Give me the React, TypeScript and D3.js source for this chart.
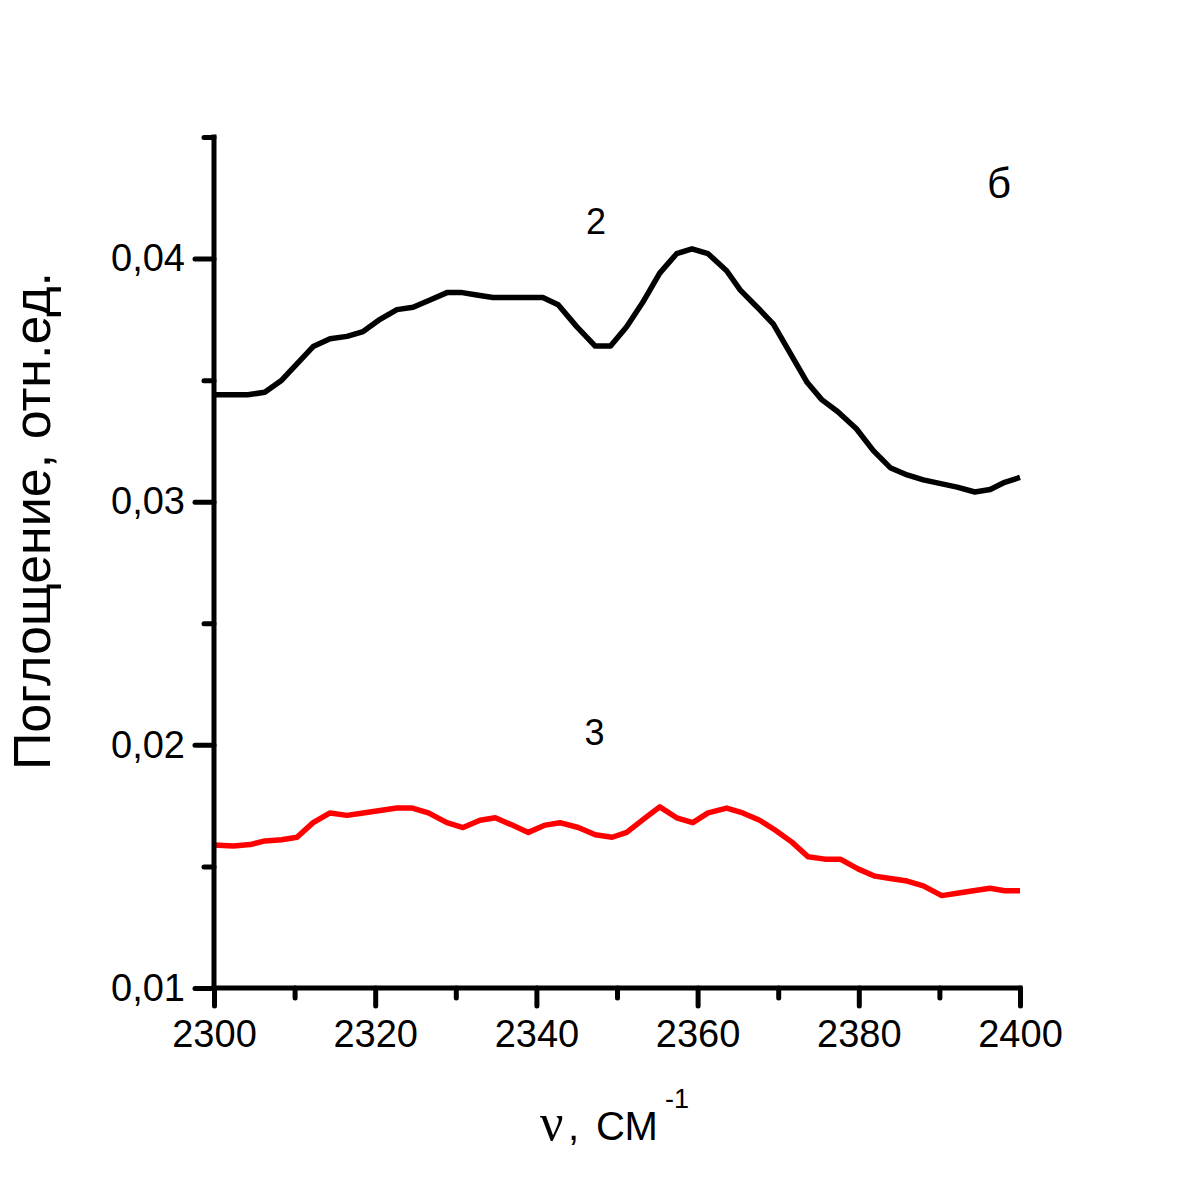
import { useEffect, useRef } from 'react';
import * as d3 from 'd3';

const WIDTH = 1185;
const HEIGHT = 1185;
const MARGIN = { top: 137, right: 165, bottom: 197, left: 214 };

// curve 2 (black)
const nu2 = [
  2300, 2304.2, 2306.3, 2308.4, 2312.3, 2314.4, 2316.5, 2318.5, 2320.6, 2322.7, 2324.7, 2326.8, 2328.9, 2330.8,
  2332.6, 2334.6, 2340.8, 2342.7, 2345.0, 2347.3, 2349.2, 2351.2, 2353.2, 2355.3, 2357.4, 2359.3, 2361.3, 2363.6,
  2365.3, 2367.4, 2369.4, 2371.5, 2373.6, 2375.4, 2377.4, 2379.7, 2381.8, 2383.9, 2386.0, 2388.0, 2392.2, 2394.4,
  2396.3, 2398.1, 2400,
];
const abs2 = [
  0.0344, 0.0344, 0.0345, 0.035, 0.03638, 0.0367, 0.0368, 0.037, 0.0375, 0.0379, 0.038, 0.0383, 0.0386, 0.0386,
  0.0385, 0.0384, 0.0384, 0.0381, 0.0372, 0.0364, 0.0364, 0.0372, 0.0382, 0.0394, 0.0402, 0.0404, 0.0402, 0.0395,
  0.0387, 0.038, 0.0373, 0.0361, 0.0349, 0.0342, 0.0337, 0.033, 0.0321, 0.0314, 0.0311, 0.0309, 0.0306, 0.0304,
  0.0305, 0.0308, 0.031,
];

// curve 3 (red)
const nu3 = [
  2300, 2302.4, 2304.5, 2306.3, 2308.4, 2310.3, 2312.3, 2314.4, 2316.5, 2318.5, 2320.6, 2322.7, 2324.6, 2326.6,
  2328.9, 2330.9, 2333.0, 2334.9, 2337.0, 2339.0, 2341.1, 2342.9, 2345.2, 2347.3, 2349.4, 2351.2, 2353.5, 2355.3,
  2357.4, 2359.4, 2361.3, 2363.6, 2365.6, 2367.7, 2369.6, 2371.7, 2373.7, 2375.8, 2377.7, 2379.9, 2382.0, 2383.9,
  2386.0, 2388.0, 2390.3, 2392.2, 2394.2, 2396.3, 2398.1, 2400,
];
const abs3 = [
  0.01588, 0.01584, 0.0159, 0.01605, 0.0161, 0.0162, 0.0168, 0.0172, 0.0171, 0.0172, 0.0173, 0.0174, 0.0174, 0.0172,
  0.0168, 0.0166, 0.0169, 0.017, 0.0167, 0.0164, 0.0167, 0.0168, 0.0166, 0.0163, 0.0162, 0.0164, 0.017, 0.01745,
  0.017, 0.0168, 0.0172, 0.0174, 0.0172, 0.0169, 0.0165, 0.016, 0.0154, 0.0153, 0.0153, 0.0149, 0.0146, 0.0145,
  0.0144, 0.0142, 0.0138, 0.0139, 0.014, 0.0141, 0.014, 0.014,
];

const xMajor = [2300, 2320, 2340, 2360, 2380, 2400];
const xMinor = [2310, 2330, 2350, 2370, 2390];
const yMajor = [0.01, 0.02, 0.03, 0.04];
const yMinor = [0.015, 0.025, 0.035, 0.045];

const FONT = '"Liberation Sans", Arial, sans-serif';

const App = () => {
  const axesRef = useRef<SVGGElement>(null);
  const boundsWidth = WIDTH - MARGIN.left - MARGIN.right;
  const boundsHeight = HEIGHT - MARGIN.top - MARGIN.bottom;

  const xScale = d3.scaleLinear().domain([2300, 2400]).range([0, boundsWidth]);
  const yScale = d3.scaleLinear().domain([0.01, 0.045]).range([boundsHeight, 0]);

  const line = d3
    .line<[number, number]>()
    .x(d => xScale(d[0]))
    .y(d => yScale(d[1]));

  const path2 = line(nu2.map((v, i) => [v, abs2[i]]));
  const path3 = line(nu3.map((v, i) => [v, abs3[i]]));

  useEffect(() => {
    const g = d3.select(axesRef.current);
    g.selectAll('*').remove();

    // minor ticks
    g.append('g')
      .attr('transform', `translate(0,${boundsHeight})`)
      .call(d3.axisBottom(xScale).tickValues(xMinor).tickSize(10).tickFormat(() => ''));
    g.append('g').call(d3.axisLeft(yScale).tickValues(yMinor).tickSize(10).tickFormat(() => ''));

    // major ticks
    g.append('g')
      .attr('transform', `translate(0,${boundsHeight})`)
      .call(d3.axisBottom(xScale).tickValues(xMajor).tickSize(18).tickPadding(14).tickFormat(d3.format('d')));
    g.append('g').call(
      d3
        .axisLeft(yScale)
        .tickValues(yMajor)
        .tickSize(19)
        .tickPadding(10)
        .tickFormat(d => d3.format('.2f')(d as number).replace('.', ',')),
    );

    g.selectAll('.domain').remove();
    g.selectAll('.tick line').attr('stroke', '#000').attr('stroke-width', 5).attr('stroke-linecap', 'round');
    g.selectAll('.tick text').attr('fill', '#000').attr('font-family', FONT).attr('font-size', 38);

    // axis lines
    g.append('line')
      .attr('x1', 0)
      .attr('x2', 0)
      .attr('y1', 0)
      .attr('y2', boundsHeight)
      .attr('stroke', '#000')
      .attr('stroke-width', 5)
      .attr('stroke-linecap', 'square');
    g.append('line')
      .attr('x1', 0)
      .attr('x2', boundsWidth)
      .attr('y1', boundsHeight)
      .attr('y2', boundsHeight)
      .attr('stroke', '#000')
      .attr('stroke-width', 5)
      .attr('stroke-linecap', 'square');
  }, []);

  return (
    <svg
      width={WIDTH}
      height={HEIGHT}
      style={{ position: 'absolute', left: 0, top: 0, background: '#fff' }}
      fontFamily={FONT}
    >
      <rect width={WIDTH} height={HEIGHT} fill="#fff" />
      <g transform={`translate(${MARGIN.left},${MARGIN.top})`}>
        <path d={path3 ?? ''} fill="none" stroke="#ff0000" strokeWidth={5.5} strokeLinejoin="round" />
        <path d={path2 ?? ''} fill="none" stroke="#000" strokeWidth={5.5} strokeLinejoin="round" />
        <g ref={axesRef} />
        <text x={xScale(2347.4)} y={yScale(0.041)} fontSize={36} textAnchor="middle">
          2
        </text>
        <text x={xScale(2347.2)} y={yScale(0.02)} fontSize={36} textAnchor="middle">
          3
        </text>
        <text x={xScale(2397.4)} y={yScale(0.0425)} fontSize={42} textAnchor="middle">
          б
        </text>
      </g>
      <text transform={`translate(50,521) rotate(-90)`} fontSize={52} textAnchor="middle">
        Поглощение, отн.ед.
      </text>
      <text x={540} y={1140} fontSize={52} fontFamily='"Liberation Serif", serif'>
        ν
      </text>
      <text x={568} y={1140} fontSize={40}>
        ,
      </text>
      <text x={596} y={1140} fontSize={40}>
        СМ
      </text>
      <text x={665} y={1108} fontSize={27}>
        -1
      </text>
    </svg>
  );
};

export default App;
